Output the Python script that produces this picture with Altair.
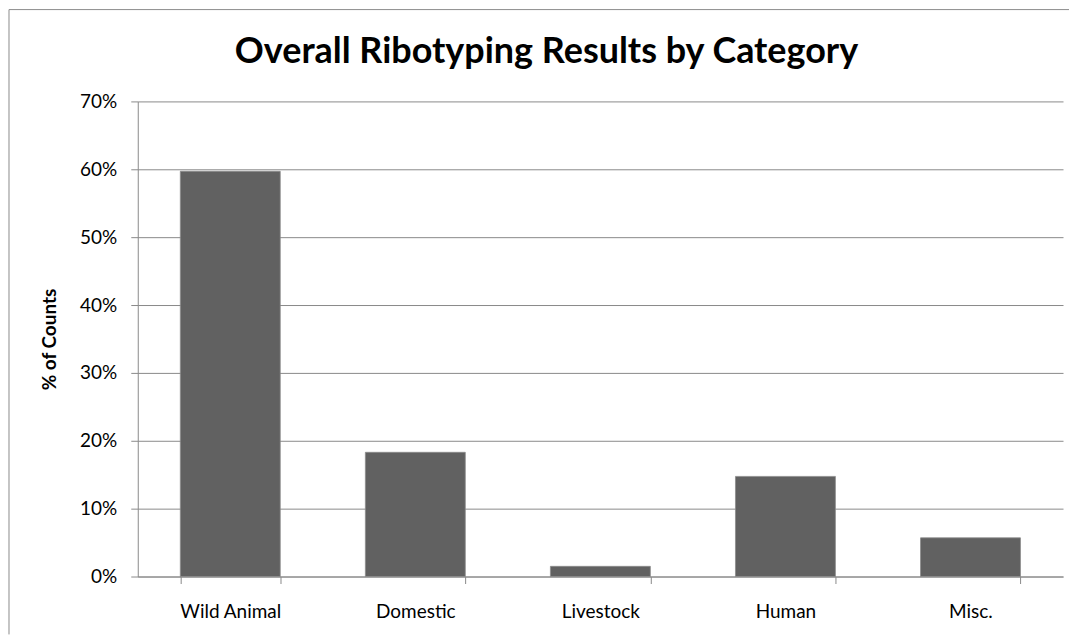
import altair as alt
import pandas as pd

categories = ["Wild Animal", "Domestic", "Livestock", "Human", "Misc."]
values = [0.597, 0.183, 0.015, 0.1475, 0.057]
y_ticks = [0, 0.1, 0.2, 0.3, 0.4, 0.5, 0.6, 0.7]

df = pd.DataFrame({"category": categories, "value": values})

FONT = "Lato"
GRID = "#8a8a8a"

bars = alt.Chart(df).mark_bar(color="#616161", stroke="#8c8c8c", strokeWidth=0.8).encode(
    x=alt.X("category:N", sort=categories, title=None,
            scale=alt.Scale(paddingInner=0.46, paddingOuter=0.23),
            axis=alt.Axis(labelAngle=0, labelFontSize=19, labelFont=FONT, labelColor="#000000",
                          labelPadding=19, tickBand="extent", tickSize=7, tickColor=GRID,
                          domainColor=GRID, grid=False)),
    y=alt.Y("value:Q", title="% of Counts",
            scale=alt.Scale(domain=[0, 0.7], nice=False),
            axis=alt.Axis(values=y_ticks, format=".0%", labelFontSize=19, labelFont=FONT,
                          labelColor="#000000", labelPadding=14, tickSize=7, tickColor=GRID,
                          domainColor=GRID, gridColor=GRID, gridWidth=1,
                          titleFont=FONT, titleFontSize=19, titleFontWeight="bold",
                          titleColor="#000000", titlePadding=20)),
)

border_src = pd.DataFrame({"k": [0]})
top_rule = alt.Chart(border_src).mark_rule(color="#8c8c8c", strokeWidth=1).encode(
    x=alt.value(-129), x2=alt.value(933), y=alt.value(-92)
)
left_rule = alt.Chart(border_src).mark_rule(color="#8c8c8c", strokeWidth=1).encode(
    x=alt.value(-129), y=alt.value(-92), y2=alt.value(534)
)

chart = alt.layer(bars, top_rule, left_rule).properties(
    width=927,
    height=476,
    padding=0,
    title=alt.TitleParams("Overall Ribotyping Results by Category", font=FONT, fontSize=36,
                          fontWeight="bold", color="#000000", anchor="middle", dx=-54, offset=-62),
).configure_view(stroke=None)

chart.save("out.html", embed_options={"renderer": "svg", "actions": False})
